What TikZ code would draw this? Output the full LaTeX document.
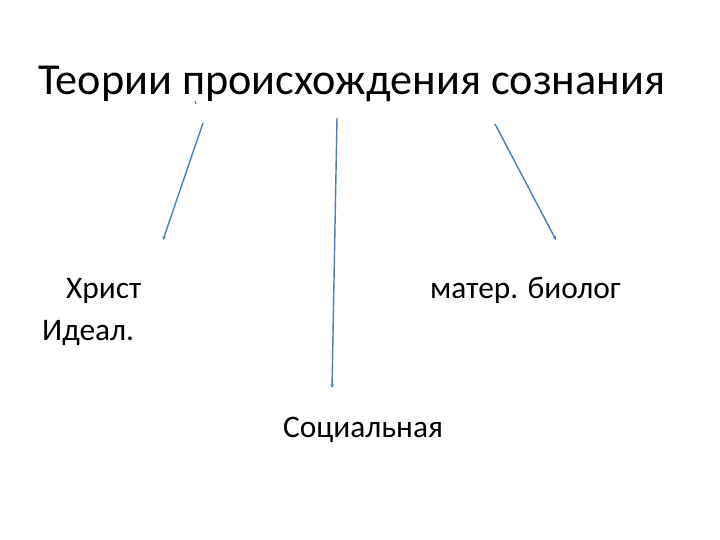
\documentclass[tikz,border=0pt]{standalone}
\usepackage{fontspec}
\setmainfont{Carlito}
\usetikzlibrary{arrows.meta}
\definecolor{lineblue}{HTML}{4A7EBB}
\begin{document}
\begin{tikzpicture}[x=1bp,y=-1bp,
  lbl/.style={anchor=base west,inner sep=0pt,font=\fontsize{31.5}{36}\selectfont},
  ttl/.style={anchor=base west,inner sep=0pt,font=\fontsize{44.4}{50}\selectfont},
  conn/.style={draw=lineblue,line width=1.4bp,-{Stealth[length=4bp,width=3.5bp]}}]
\useasboundingbox (0,0) rectangle (720,540);
\node[ttl] (title) at (38,95) {Теории происхождения сознания};
\node[lbl] (hrist) at (66,298) {Христ};
\node[lbl] (ideal) at (42,340) {Идеал.};
\node[lbl] (mater) at (430,298) {матер. биолог};
\node[lbl] (soc) at (283,437) {Социальная};
\coordinate (s1) at (203,123);
\coordinate (e1) at (163,240);
\coordinate (s2) at (337,118);
\coordinate (e2) at (332,388);
\coordinate (s3) at (495,124);
\coordinate (e3) at (556,240);
\coordinate (d1) at (195,101);
\coordinate (d2) at (196,104);
\draw[conn] (s1) -- (e1);
\draw[conn] (s2) -- (e2);
\draw[conn] (s3) -- (e3);
\draw[draw=lineblue,line width=1.2bp] (d1) -- (d2);
\end{tikzpicture}
\end{document}
